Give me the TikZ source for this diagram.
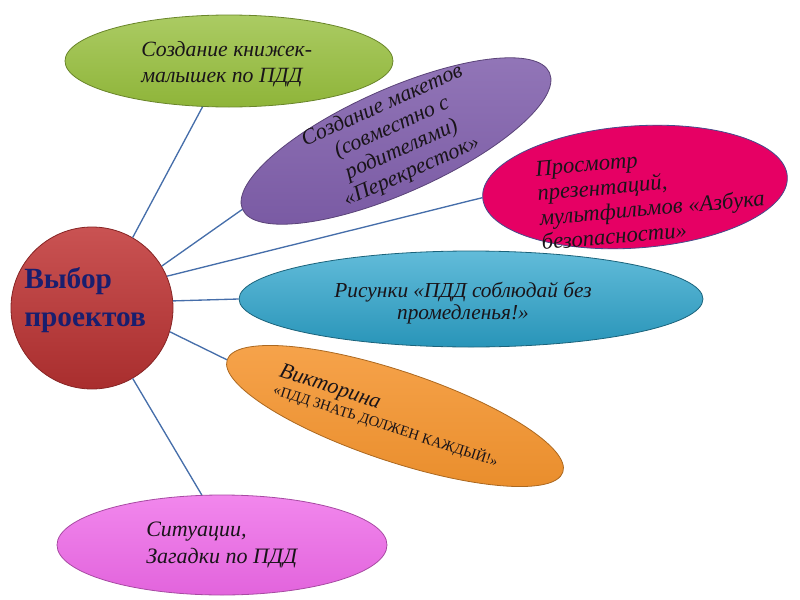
\documentclass[tikz,border=0pt]{standalone}
\usepackage{fontspec}
\setmainfont{Liberation Serif}
\usetikzlibrary{shapes.geometric}
\definecolor{conncol}{RGB}{70,110,170}
\definecolor{navy}{RGB}{25,30,110}
\definecolor{cred}{RGB}{192,52,52}
\definecolor{cgreen}{RGB}{150,190,60}
\definecolor{cpurple}{RGB}{128,95,172}
\definecolor{cpink}{RGB}{230,0,100}
\definecolor{cblue}{RGB}{45,165,205}
\definecolor{corange}{RGB}{245,148,45}
\definecolor{cmag}{RGB}{238,105,232}
\definecolor{txt}{RGB}{25,20,25}
\tikzset{
  oval/.style={ellipse, inner sep=0pt, line width=0.6pt},
  conn/.style={draw=conncol, line width=1pt},
  lab/.style={inner sep=0pt, text=txt, font=\itshape},
}
\begin{document}
\begin{tikzpicture}[x=0.75pt,y=-0.75pt]
\useasboundingbox (0,0) rectangle (800,600);
% central circle
\node[circle, minimum size=121.5pt, inner sep=0pt, draw=cred!70!black, line width=0.6pt,
      top color=cred!85!white, bottom color=cred!88!black] (c) at (92,308) {};
\node[inner sep=0pt, anchor=west, align=left, text=navy,
      font=\bfseries\fontsize{22}{29}\selectfont] (ct) at (24,300) {Выбор\\проектов};
% green
\node[oval, minimum width=246pt, minimum height=69pt, draw=cgreen!70!black,
      top color=cgreen!80!white, bottom color=cgreen!95!black] (g) at (229,61) {};
\node[lab, anchor=west, align=left, font=\itshape\fontsize{16.3}{19}\selectfont] (gt) at (141,64)
  {Создание книжек-\\малышек по ПДД};
% purple
\node[oval, rotate=24, minimum width=252pt, minimum height=78pt, draw=cpurple!70!black,
      top color=cpurple!85!white, bottom color=cpurple!95!black] (p) at (396,141) {};
\node[lab, rotate=24, align=center, font=\itshape\fontsize{16.5}{18}\selectfont] (pt) at (397,139)
  {Создание макетов\\(совместно с\\родителями)\\«Перекресток»};
% pink
\node[oval, rotate=4, minimum width=229pt, minimum height=91.5pt, draw=navy!80,
      fill=cpink] (pk) at (635,187) {};
\node[lab, rotate=5, align=left, font=\itshape\fontsize{17}{18.5}\selectfont] (pkt) at (651,196)
  {Просмотр\\презентаций,\\мультфильмов «Азбука\\безопасности»};
% blue
\node[oval, minimum width=348pt, minimum height=72pt, draw=cblue!60!black,
      top color=cblue!75!white, bottom color=cblue!90!black] (b) at (471,299) {};
\node[lab, align=center, font=\itshape\fontsize{16}{17}\selectfont] (bt) at (463,303)
  {Рисунки «ПДД соблюдай без\\промедленья!»};
% orange
\node[oval, rotate=-18.5, minimum width=265.5pt, minimum height=67.5pt, draw=corange!70!black,
      top color=corange!85!white, bottom color=corange!95!black] (o) at (395,416) {};
\node[lab, rotate=-18, align=left] (ot) at (389,416)
  {{\fontsize{16.5}{17}\selectfont Викторина}\\{\upshape\fontsize{11}{12}\selectfont «ПДД ЗНАТЬ ДОЛЖЕН КАЖДЫЙ!»}};
% magenta
\node[oval, minimum width=247.5pt, minimum height=75pt, draw=cmag!70!black,
      top color=cmag!80!white, bottom color=cmag!95!black] (m) at (222,545) {};
\node[lab, anchor=west, align=left, font=\itshape\fontsize{16.5}{20}\selectfont] (mt) at (146,545)
  {Ситуации,\\Загадки по ПДД};
% connectors
\draw[conn] (c.60) -- (g.240);
\draw[conn] (c.31) -- (p.west);
\draw[conn] (c.23) -- (pk.west);
\draw[conn] (c.5) -- (b.west);
\draw[conn] (c.-17) -- (o.west);
\draw[conn] (c.-60) -- (m.112);
\end{tikzpicture}
\end{document}
